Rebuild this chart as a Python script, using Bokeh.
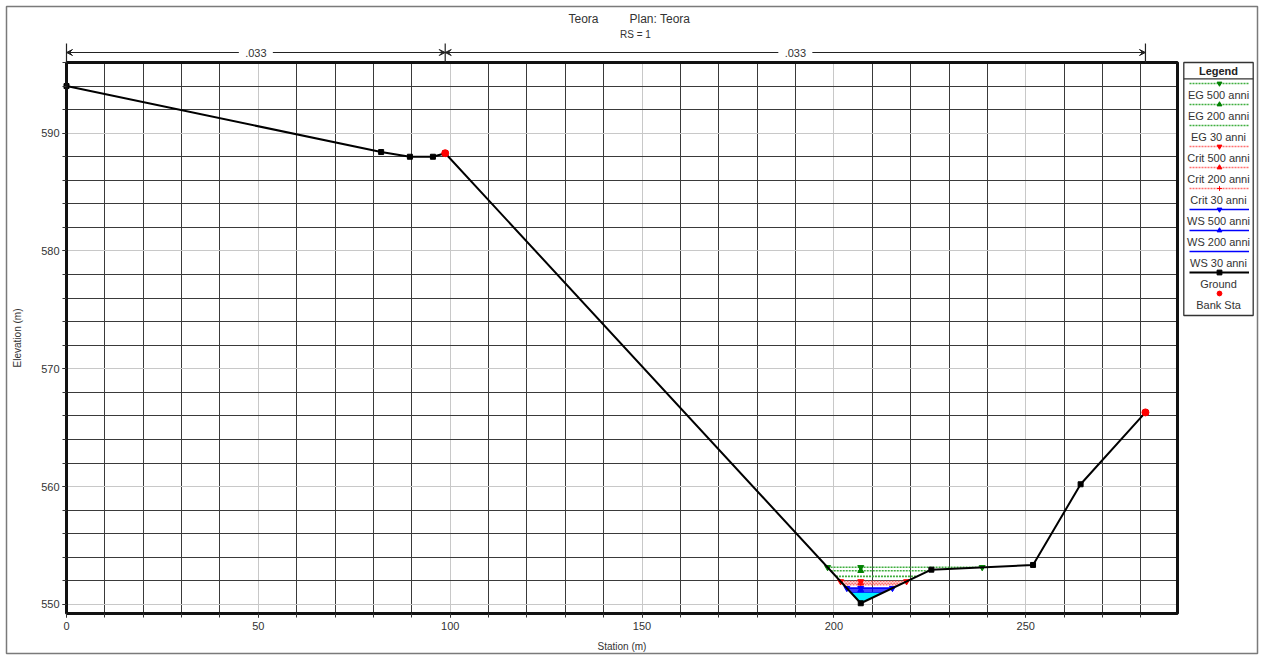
import numpy as np
from bokeh.plotting import figure
from bokeh.models import (Range1d, SingleIntervalTicker, Arrow, VeeHead,
                          Legend, LegendItem, Grid)
from bokeh.core.properties import value
from bokeh.embed import file_html
from bokeh.resources import INLINE

# ---- cross-section geometry (RS = 1) ----
ground_sta = [0.0, 82.0, 89.5, 95.5, 98.7, 207.0, 225.4, 251.9, 264.3, 281.2]
ground_elev = [594.0, 588.4, 588.0, 588.0, 588.3, 550.1, 552.95, 553.35, 560.2, 566.3]
bank_sta = [98.7, 281.2]
bank_elev = [588.3, 566.3]
n_values = [".033", ".033"]
n_breaks = [0.0, 98.7, 281.2]

# ---- computed water levels per profile ----
profile_names = ["EG 500 anni", "EG 200 anni", "EG 30 anni",
                 "Crit 500 anni", "Crit 200 anni", "Crit 30 anni",
                 "WS 500 anni", "WS 200 anni", "WS 30 anni"]
profile_elev = [553.15, 552.86, 552.38,
                551.95, 551.80, 551.68,
                551.38, 551.22, 551.05]

# styling per profile
prof_line_color = ["#3fae3f"] * 3 + ["#ff7070"] * 3 + ["#0000ff"] * 3
prof_mark_color = ["#008000"] * 3 + ["#ff0000"] * 3 + ["#0000ff"] * 3
prof_dash = ["2 1"] * 3 + ["2 1"] * 3 + ["solid"] * 3
prof_marker = ["inverted_triangle", "triangle", None,
               "inverted_triangle", "triangle", "cross",
               "inverted_triangle", "triangle", None]

FONT = "Liberation Sans"
W, H = 1262, 655
# plot area inside the canvas (pixels)
PA_L, PA_R, PA_T, PA_B = 66, 1177, 62, 613
X0, X1 = 0.0, 289.55
Y0, Y1 = 549.23, 596.0
sx = (PA_R - PA_L) / (X1 - X0)
sy = (PA_B - PA_T) / (Y1 - Y0)

gs = np.array(ground_sta)
ge = np.array(ground_elev)
imin = int(np.argmin(ge))


def crossings(z):
    i = imin
    while i > 0 and ge[i - 1] < z:
        i -= 1
    xl = gs[i - 1] + (z - ge[i - 1]) * (gs[i] - gs[i - 1]) / (ge[i] - ge[i - 1])
    j = imin
    while j < len(ge) - 1 and ge[j + 1] < z:
        j += 1
    xr = gs[j] + (z - ge[j]) * (gs[j + 1] - gs[j]) / (ge[j + 1] - ge[j])
    return xl, xr, i, j


p = figure(width=W, height=H,
           x_range=Range1d(X0 - PA_L / sx, X1 + (W - PA_R) / sx),
           y_range=Range1d(Y0 - (H - PA_B) / sy, Y1 + PA_T / sy),
           output_backend="svg", toolbar_location=None, title=None,
           min_border=0, min_border_left=0, min_border_right=0,
           min_border_top=0, min_border_bottom=0,
           x_axis_label="Station (m)", y_axis_label="Elevation (m)")
p.background_fill_color = "white"
p.border_fill_color = "white"
p.outline_line_color = None

# page-pixel coordinate system for the decorations around the plot area
p.extra_x_ranges = {"px": Range1d(0, W)}
p.extra_y_ranges = {"px": Range1d(H, 0)}
PX = dict(x_range_name="px", y_range_name="px")

xticker = SingleIntervalTicker(interval=50, num_minor_ticks=5)
yticker = SingleIntervalTicker(interval=10, num_minor_ticks=5)
xa, ya = p.xaxis[0], p.yaxis[0]
xa.ticker = xticker
ya.ticker = yticker
xa.fixed_location = Y0
ya.fixed_location = X0
xa.bounds = (X0, X1)
ya.bounds = (Y0, Y1)
for ax in (xa, ya):
    ax.axis_line_color = None
    ax.major_tick_in = 0
    ax.minor_tick_in = 0
    ax.major_tick_out = 4
    ax.minor_tick_out = 4
    ax.major_tick_line_color = "#333333"
    ax.minor_tick_line_color = "#333333"
    ax.major_label_text_font = FONT
    ax.major_label_text_font_size = "11px"
    ax.major_label_text_color = "#333333"
    ax.axis_label_text_font = FONT
    ax.axis_label_text_font_size = "10px"
    ax.axis_label_text_font_style = "normal"
    ax.axis_label_text_color = "#333333"
ya.major_label_standoff = 3
xa.major_label_standoff = 4
ya.axis_label_standoff = 15
xa.axis_label_standoff = 8

has_cross = "cross_bounds" in Grid.properties()
for g, b, cb in ((p.xgrid[0], (X0, X1), (Y0, Y1)), (p.ygrid[0], (Y0, Y1), (X0, X1))):
    g.bounds = b
    if has_cross:
        g.cross_bounds = cb
    g.grid_line_color = "#c8c8c8"
    g.grid_line_width = 1
    g.minor_grid_line_color = "#3a3a3a"
    g.minor_grid_line_width = 1

# white surround outside the plot area (hides any grid overrun)
p.quad(left=[0, 0, 0, PA_R], right=[W, W, PA_L, W],
       top=[0, PA_B, PA_T, PA_T], bottom=[PA_T, H, PA_B, PA_B],
       fill_color="white", line_color=None, **PX)

# ---- outer frame ----
p.quad(left=[6], right=[1257], top=[6], bottom=[653], fill_color=None,
       line_color="#7a7a7a", line_width=1.5, **PX)

# water area of the lowest profile
zw = profile_elev[-1]
xl, xr, i0, j0 = crossings(zw)
fill_x = [xl] + list(gs[i0:j0 + 1]) + [xr]
fill_y = [zw] + list(ge[i0:j0 + 1]) + [zw]
p.patch(fill_x, fill_y, fill_color="#00f0ff", line_color=None)

legend_renderers = []
for k, (name, z) in enumerate(zip(profile_names, profile_elev)):
    xl, xr, _, _ = crossings(z)
    r_line = p.line([xl, xr], [z, z], line_color=prof_line_color[k],
                    line_width=1.6, line_dash=prof_dash[k])
    rs = [r_line]
    if prof_marker[k] is not None:
        mx = [xl, gs[imin], xr] if k % 3 == 0 else [gs[imin]]
        r_m = p.scatter(mx, [z] * len(mx), marker=prof_marker[k], size=6,
                        fill_color=prof_mark_color[k], line_color=prof_mark_color[k])
        rs.append(r_m)
    legend_renderers.append((name, rs))

r_ground = p.line(ground_sta, ground_elev, line_color="black", line_width=2)
r_gpts = p.scatter(ground_sta, ground_elev, marker="square", size=5,
                   fill_color="black", line_color="black")
legend_renderers.append(("Ground", [r_ground, r_gpts]))
r_bank = p.scatter(bank_sta, bank_elev, marker="circle", size=7,
                   fill_color="#ff0000", line_color="#ff0000")
legend_renderers.append(("Bank Sta", [r_bank]))

# plot-area border
p.quad(left=[X0], right=[X1], bottom=[Y0], top=[Y1], fill_color=None,
       line_color="#111111", line_width=3)

# ---- title ----
p.text(x=[568, 629], y=[18, 18], text=["Teora", "Plan: Teora"],
       text_font=value(FONT), text_font_size="12px", text_color="#333333",
       text_baseline="middle", text_align="left", **PX)
p.text(x=[635], y=[34], text=["RS = 1"],
       text_font=value(FONT), text_font_size="10px", text_color="#333333",
       text_baseline="middle", text_align="center", **PX)

# ---- Manning's n bar ----
N_Y = 52
gap = 17 / sx
for a, b in zip(n_breaks[:-1], n_breaks[1:]):
    m = (a + b) / 2
    p.segment(x0=[a, m + gap], y0=[N_Y, N_Y], x1=[m - gap, b], y1=[N_Y, N_Y],
              line_color="#222222", line_width=1, y_range_name="px")
    p.add_layout(Arrow(x_start=m, y_start=N_Y, x_end=a, y_end=N_Y, y_range_name="px",
                       line_alpha=0, start=None,
                       end=VeeHead(size=6, line_color="#222222", fill_color="#222222", line_width=1)))
    p.add_layout(Arrow(x_start=m, y_start=N_Y, x_end=b, y_end=N_Y, y_range_name="px",
                       line_alpha=0, start=None,
                       end=VeeHead(size=6, line_color="#222222", fill_color="#222222", line_width=1)))
p.segment(x0=n_breaks, y0=[43] * len(n_breaks), x1=n_breaks, y1=[PA_T] * len(n_breaks),
          line_color="#222222", line_width=1.2, y_range_name="px")
p.text(x=[(a + b) / 2 for a, b in zip(n_breaks[:-1], n_breaks[1:])], y=[N_Y] * len(n_values),
       text=n_values, text_font=value(FONT), text_font_size="11px", text_color="#333333",
       text_align="center", text_baseline="middle", y_range_name="px")

# ---- legend ----
LB_L, LB_R, LB_T, LB_B = 1183.3, 1252.7, 62.0, 315.0
p.quad(left=[LB_L], right=[LB_R], top=[LB_T], bottom=[LB_B], fill_color="white",
       line_color="#333333", line_width=1.3, **PX)
p.segment(x0=[LB_L], y0=[78.3], x1=[LB_R], y1=[78.3], line_color="#333333",
          line_width=1.3, **PX)
p.text(x=[(LB_L + LB_R) / 2], y=[70.5], text=["Legend"], text_font=value(FONT),
       text_font_size="11px", text_font_style="bold", text_color="#222222",
       text_align="center", text_baseline="middle", **PX)

GLYPH_H, STEP = 12, 21
first_center = 83.3
row_top = first_center - GLYPH_H / 2
n_items = len(legend_renderers)
leg_bottom = row_top + n_items * GLYPH_H + (n_items - 1) * (STEP - GLYPH_H)
items = [LegendItem(label=value(" "), renderers=rs) for _, rs in legend_renderers]
leg = Legend(items=items, location=(1189, H - leg_bottom),
             glyph_width=60, glyph_height=GLYPH_H, label_height=GLYPH_H,
             label_width=0, label_standoff=0, label_text_font_size="1px",
             spacing=STEP - GLYPH_H, padding=0, margin=0,
             border_line_color=None, background_fill_alpha=0.0)
p.add_layout(leg)

lab_y = [first_center + k * STEP + 11 for k in range(n_items)]
p.text(x=[(LB_L + LB_R) / 2] * n_items, y=lab_y, text=[n for n, _ in legend_renderers],
       text_font=value(FONT), text_font_size="11px", text_color="#333333",
       text_align="center", text_baseline="middle", **PX)

open("out.html", "w").write(file_html(p, INLINE))
